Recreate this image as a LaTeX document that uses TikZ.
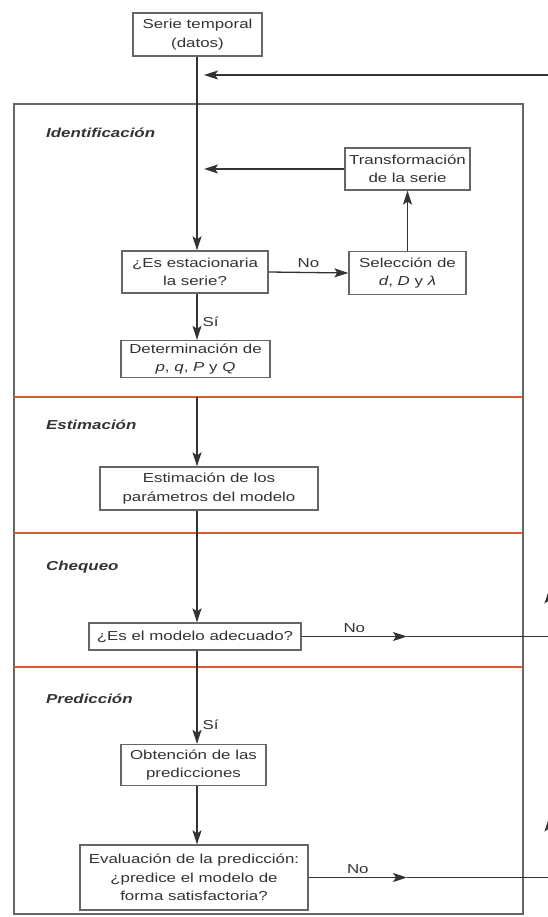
\documentclass[tikz,border=0pt]{standalone}
\usepackage{fontspec}
\setmainfont{Liberation Sans}[FakeStretch=1.3]
\usetikzlibrary{arrows.meta,calc}
\definecolor{ink}{HTML}{333333}
\definecolor{edge}{HTML}{666666}
\definecolor{sepc}{HTML}{D95A35}
\begin{document}
\begin{tikzpicture}[x=1pt,y=-1pt,
  txt/.style={font=\fontsize{13}{18.5}\selectfont, text=ink},
  box/.style={txt, draw=edge, line width=1.3pt, align=center, inner sep=0pt, fill=white},
  phase/.style={font=\fontsize{13}{16}\selectfont\bfseries\itshape, text=ink, anchor=west, inner sep=0pt},
  lbl/.style={txt, inner sep=0pt},
  conn/.style={draw=ink, line width=1.3pt},
  arr/.style={conn, -{Stealth[length=14pt,width=9pt,inset=3pt]}},
  frame/.style={draw=edge, line width=2pt},
  sepline/.style={draw=sepc, line width=2.4pt}]
\useasboundingbox (0,0) rectangle (548,917);
\clip (0,0) rectangle (548,917);

% frame and phase separators
\draw[frame] (14,104) rectangle (523,914);
\coordinate (s1l) at (14,397);  \coordinate (s1r) at (523,397);
\coordinate (s2l) at (14,533);  \coordinate (s2r) at (523,533);
\coordinate (s3l) at (14,667);  \coordinate (s3r) at (523,667);
\draw[sepline] (s1l) -- (s1r);
\draw[sepline] (s2l) -- (s2r);
\draw[sepline] (s3l) -- (s3r);

% phase labels
\node[phase] (pid) at (46,133) {Identificación};
\node[phase] (pes) at (46,425) {Estimación};
\node[phase] (pch) at (46,567) {Chequeo};
\node[phase] (ppr) at (46,699) {Predicción};

% boxes
\node[box, minimum width=129pt, minimum height=43pt] (datos) at (197.5,34.5) {Serie temporal\\(datos)};
\node[box, minimum width=125pt, minimum height=42pt] (transf) at (407.5,169) {Transformación\\de la serie};
\node[box, minimum width=146pt, minimum height=42pt] (esta) at (195,272) {¿Es estacionaria\\la serie?};
\node[box, minimum width=117pt, minimum height=43pt] (selec) at (407.5,273) {Selección de\\\textit{d}, \textit{D} y \textit{λ}};
\node[box, minimum width=149pt, minimum height=37pt] (determ) at (195.5,359) {Determinación de\\\textit{p}, \textit{q}, \textit{P} y \textit{Q}};
\node[box, minimum width=218pt, minimum height=43pt] (param) at (209,488.5) {Estimación de los\\parámetros del modelo};
\node[box, minimum width=212pt, minimum height=27pt] (model) at (195,636.5) {¿Es el modelo adecuado?};
\node[box, minimum width=145pt, minimum height=41pt] (obt) at (193.5,765) {Obtención de las\\predicciones};
\node[box, minimum width=228pt, minimum height=65pt] (eval) at (194,877.5) {Evaluación de la predicción:\\¿predice el modelo de\\forma satisfactoria?};

% helper coordinates
\coordinate (ax) at (197,0);
\coordinate (mk) at (407,0);
\coordinate (rx) at (549,0);
\coordinate (rtop) at (549,75);

% connectors
\draw[arr] (datos.south -| ax) -- (esta.north -| ax);
\draw[arr] (transf.west) -- ($(transf.west -| ax)+(7,0)$);
\draw[arr] (esta.east) -- (selec.west) node[lbl, midway, above=4pt] {No};
\draw[arr] (selec.north) -- (transf.south);
\draw[arr] (esta.south -| ax) -- (determ.north -| ax) node[lbl, pos=0.6, right=5pt] {Sí};
\draw[arr] (s1l -| ax) -- (param.north -| ax);
\draw[arr] (param.south -| ax) -- (model.north -| ax);
\draw[arr] (model.east) -- (model.east -| mk) node[lbl, midway, above=3pt] {No};
\draw[conn] (model.east -| mk) -- (model.east -| rx);
\draw[arr] (model.south -| ax) -- (obt.north -| ax) node[lbl, pos=0.8, right=5pt] {Sí};
\draw[arr] (obt.south -| ax) -- (eval.north -| ax);
\draw[arr] (eval.east) -- (eval.east -| mk) node[lbl, midway, above=3pt] {No};
\draw[conn] (eval.east -| mk) -- (eval.east -| rx);

% return line (mostly outside the visible area)
\draw[arr] (eval.east -| rx) -- ++(0,-60);
\draw[conn] ($(eval.east -| rx)+(0,-60)$) -- (model.east -| rx);
\draw[arr] (model.east -| rx) -- ++(0,-47);
\draw[conn] ($(model.east -| rx)+(0,-47)$) -- (rtop);
\draw[arr] (rtop) -- ($(rtop -| ax)+(7,0)$);
\end{tikzpicture}
\end{document}
